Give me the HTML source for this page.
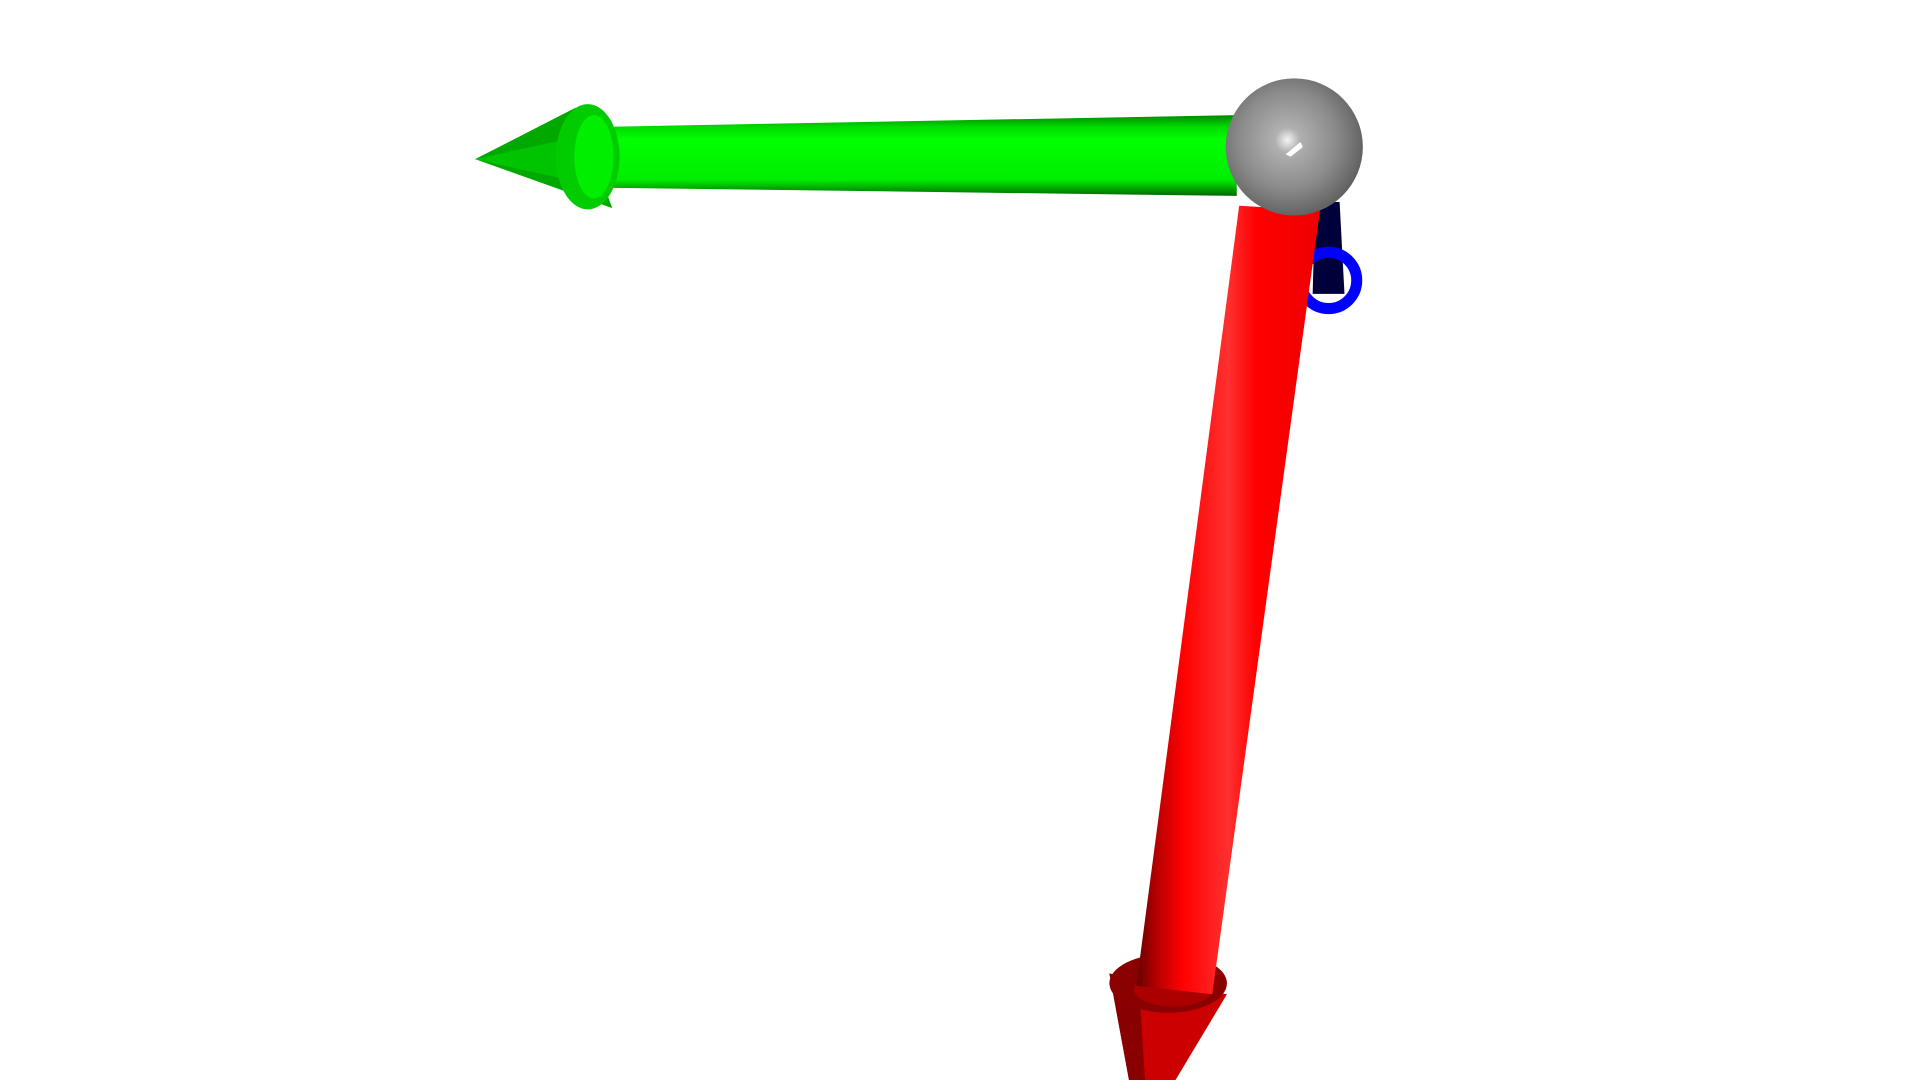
<!DOCTYPE html>
<html>
<head>
<meta charset="utf-8">
<style>
html,body{margin:0;padding:0;background:#fff;width:1920px;height:1080px;overflow:hidden;font-family:"Liberation Sans",sans-serif;}
svg{display:block}
</style>
</head>
<body>
<svg id="scene" width="1920" height="1080" viewBox="0 0 1568 882" preserveAspectRatio="none" xmlns="http://www.w3.org/2000/svg">
<defs>
<radialGradient id="sph" cx="0.45" cy="0.45" r="0.6">
<stop offset="0" stop-color="#f4f4f4"/>
<stop offset="0.15" stop-color="#b0b0b0"/>
<stop offset="0.6" stop-color="#8a8a8a"/>
<stop offset="1" stop-color="#5a5a5a"/>
</radialGradient>
<linearGradient id="gsh" x1="0" y1="0" x2="0" y2="1">
<stop offset="0" stop-color="#008800"/>
<stop offset="0.15" stop-color="#00dd00"/>
<stop offset="0.3" stop-color="#00ff00"/>
<stop offset="0.8" stop-color="#00ee00"/>
<stop offset="0.9" stop-color="#00aa00"/>
<stop offset="1" stop-color="#006600"/>
</linearGradient>
<linearGradient id="rsh" x1="0" y1="0" x2="1" y2="0">
<stop offset="0" stop-color="#660000"/>
<stop offset="0.12" stop-color="#bb0000"/>
<stop offset="0.25" stop-color="#ff0000"/>
<stop offset="0.5" stop-color="#ff3030"/>
<stop offset="0.65" stop-color="#ff0000"/>
<stop offset="1" stop-color="#ee0000"/>
</linearGradient>
</defs>
<g id="blue-axis">
<polygon points="1074,165 1094,165 1098,240 1072,240" fill="#00003a"/>
<circle cx="1085" cy="229" r="23" fill="none" stroke="#0000ff" stroke-width="9"/>
</g>
<g id="green-axis">
<polygon points="470,104 1010,94 1010,160 470,153" fill="url(#gsh)"/>
<polygon points="388,130 470,88 500,170" fill="#00a800"/>
<polygon points="388,130 470,112 478,150" fill="#00c400"/>
<ellipse cx="480" cy="128" rx="26" ry="43" fill="#00cc00"/>
<ellipse cx="485" cy="128" rx="16" ry="34" fill="#00ee00"/>
</g>
<g id="red-axis">
<polygon points="906,795 1002,812 960,882 922,882" fill="#cc0000"/>
<polygon points="906,795 930,800 935,882 922,882" fill="#880000"/>
<ellipse cx="954" cy="803" rx="48" ry="24" fill="#8b0000"/>
<ellipse cx="958" cy="808" rx="32" ry="14" fill="#aa0000"/>
<polygon points="1012,168 1078,172 990,812 928,805" fill="url(#rsh)"/>
</g>
<circle cx="1057" cy="120" r="56" fill="url(#sph)"/>
<polygon points="1050,126 1062,116 1064,120 1054,128" fill="#ffffff"/>
</svg>
</body>
</html>
